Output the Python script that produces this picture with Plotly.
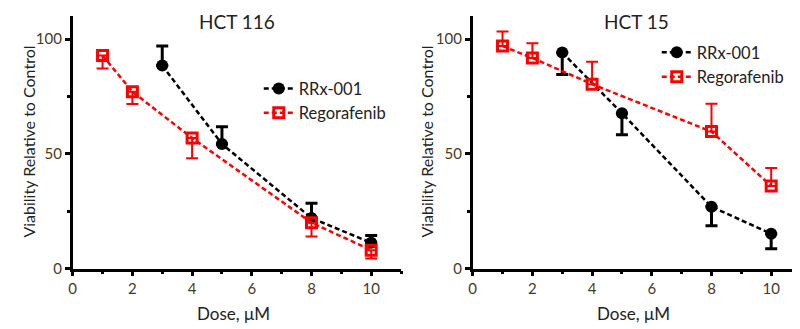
import plotly.graph_objects as go

dose_rrx = [3, 5, 8, 10]
dose_reg = [1, 2, 4, 8, 10]

# HCT 116
hct116_rrx = [88.5, 54.3, 22.0, 11.2]
hct116_rrx_err = [8.5, 7.5, 6.5, 3.2]
hct116_reg = [92.9, 77.1, 56.9, 20.0, 8.0]
hct116_reg_err = [5.7, 5.3, 8.8, 6.0, 3.6]

# HCT 15
hct15_rrx = [94.2, 67.7, 26.9, 15.2]
hct15_rrx_err = [9.6, 9.4, 8.2, 6.6]
hct15_reg = [97.0, 91.8, 80.4, 59.7, 36.0]
hct15_reg_err = [6.4, 6.4, 9.8, 12.2, 7.8]

titles = ["HCT 116", "HCT 15"]
x_ticks = [0, 2, 4, 6, 8, 10]
y_ticks = [0, 50, 100]

BLACK = "#000000"
RED = "#ff0000"
FONT = "Lato"
TICKCOL = "#4a3a22"

fig = go.Figure()

def add_panel(xa, ya, leg, rrx, rrx_err, rrx_up, reg, reg_err, reg_up):
    zeros4 = [0] * len(rrx)
    zeros5 = [0] * len(reg)
    fig.add_trace(go.Scatter(
        x=dose_rrx, y=rrx, name="RRx-001", mode="lines+markers",
        xaxis=xa, yaxis=ya, legend=leg,
        line=dict(color=BLACK, width=2.5, dash="5px,3px"),
        marker=dict(symbol="circle", size=12, color=BLACK),
        error_y=dict(type="data", symmetric=False,
                     array=rrx_err if rrx_up else zeros4,
                     arrayminus=zeros4 if rrx_up else rrx_err,
                     color=BLACK, thickness=3, width=6),
    ))
    fig.add_trace(go.Scatter(
        x=dose_reg, y=reg, name="Regorafenib", mode="lines+markers",
        xaxis=xa, yaxis=ya, legend=leg,
        line=dict(color=RED, width=2.5, dash="5px,3px"),
        marker=dict(symbol="square-open", size=10, color=RED, line=dict(width=3, color=RED)),
        error_y=dict(type="data", symmetric=False,
                     array=reg_err if reg_up else zeros5,
                     arrayminus=zeros5 if reg_up else reg_err,
                     color=RED, thickness=2, width=6),
    ))

add_panel("x", "y", "legend", hct116_rrx, hct116_rrx_err, True, hct116_reg, hct116_reg_err, False)
add_panel("x2", "y2", "legend2", hct15_rrx, hct15_rrx_err, False, hct15_reg, hct15_reg_err, True)

ydom = [(329 - 267) / 329, (329 - 8.5) / 329]
xdoms = [[61 / 800, 391 / 800], [463 / 800, 793 / 800]]

axis_common = dict(
    showline=True, linecolor=BLACK, linewidth=2.5, showgrid=False, zeroline=False,
    ticks="outside", ticklen=5, tickwidth=2.5, tickcolor=BLACK,
    tickfont=dict(family=FONT, size=15, color=TICKCOL),
    fixedrange=True,
)

for i, (xa, ya) in enumerate([("xaxis", "yaxis"), ("xaxis2", "yaxis2")]):
    anchor_x = "y" if i == 0 else "y2"
    anchor_y = "x" if i == 0 else "x2"
    fig.update_layout(**{
        xa: dict(axis_common, domain=xdoms[i], anchor=anchor_x, range=[0, 11],
                 tickvals=x_ticks,
                 minor=dict(tickvals=[1, 3, 5, 7, 9, 11], ticks="outside", ticklen=3,
                            tickwidth=2.5, tickcolor=BLACK)),
        ya: dict(axis_common, domain=ydom, anchor=anchor_y, range=[0, 110],
                 tickvals=y_ticks,
                 minor=dict(tickvals=[25, 75], ticks="outside", ticklen=3,
                            tickwidth=2.5, tickcolor=BLACK)),
    })

annotations = []
centers = [226, 628]
ycenters = [17, 417]
for i in range(2):
    annotations.append(dict(text=titles[i], x=centers[i] / 800, y=1 - 14 / 329,
                            xref="paper", yref="paper", showarrow=False,
                            xanchor="center", yanchor="middle",
                            font=dict(family=FONT, size=19, color="#222222")))
    annotations.append(dict(text="Dose, μM", x=(centers[i] - 3) / 800, y=1 - 313 / 329,
                            xref="paper", yref="paper", showarrow=False,
                            xanchor="center", yanchor="middle",
                            font=dict(family=FONT, size=17, color="#222222")))
    annotations.append(dict(text="Viability Relative to Control", x=ycenters[i] / 800,
                            y=1 - 137 / 329, xref="paper", yref="paper", showarrow=False,
                            xanchor="center", yanchor="middle", textangle=-90,
                            font=dict(family=FONT, size=16, color="#222222")))

legend_common = dict(font=dict(family=FONT, size=16.5, color="#222222"),
                     bgcolor="rgba(0,0,0,0)", xanchor="left", yanchor="middle",
                     tracegroupgap=0, itemwidth=30)

fig.update_layout(
    width=800, height=329,
    margin=dict(l=0, r=0, t=0, b=0),
    paper_bgcolor="white", plot_bgcolor="white",
    showlegend=True,
    legend=dict(legend_common, x=248 / 800, y=1 - 95 / 329),
    legend2=dict(legend_common, x=648 / 800, y=1 - 58 / 329),
    annotations=annotations,
)

fig.write_html("out.html")
